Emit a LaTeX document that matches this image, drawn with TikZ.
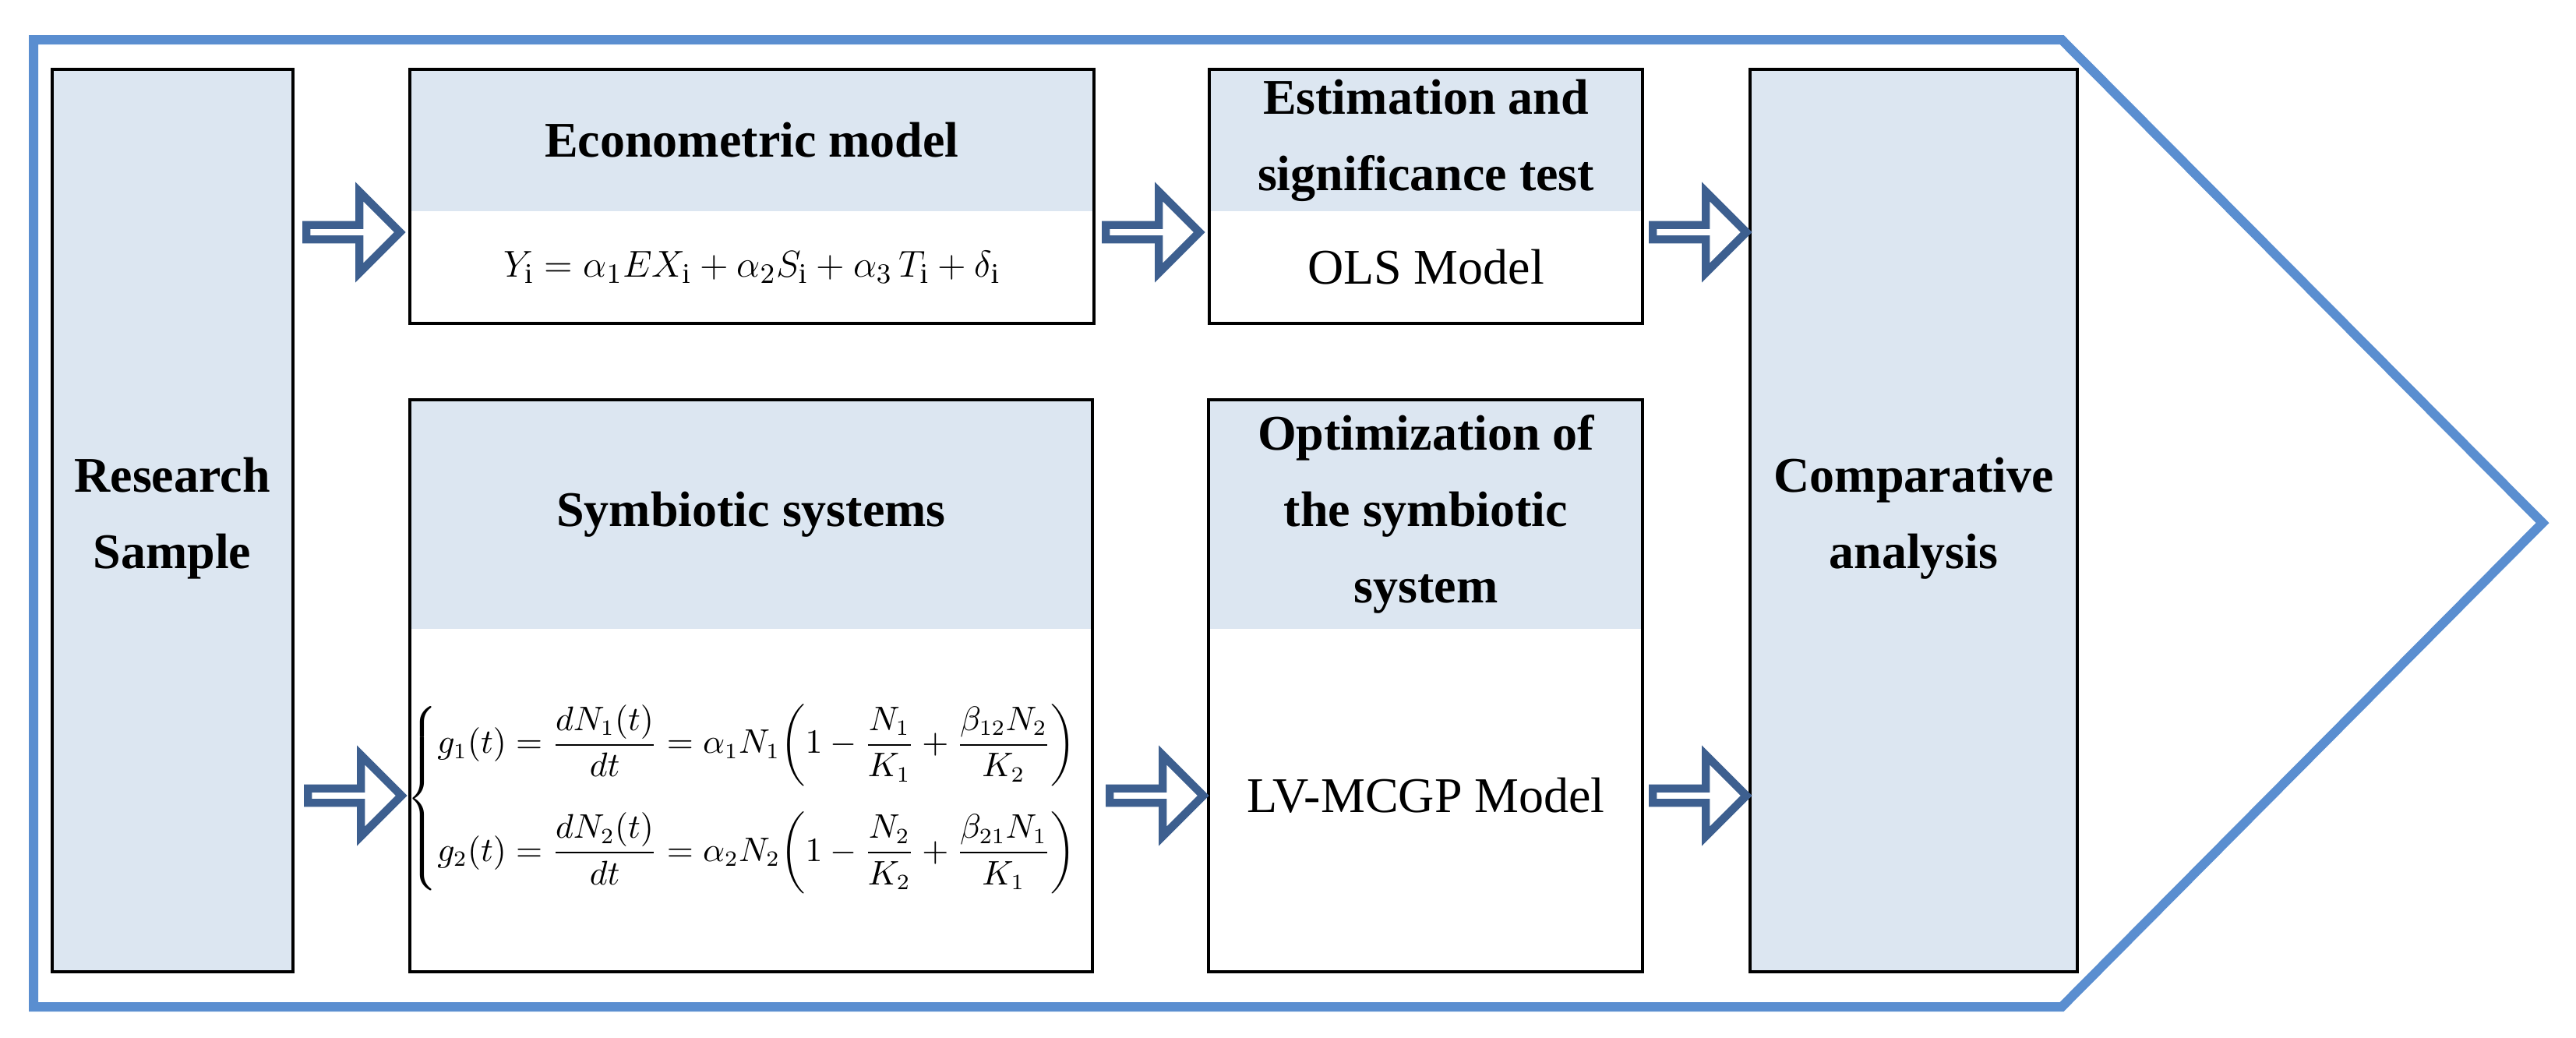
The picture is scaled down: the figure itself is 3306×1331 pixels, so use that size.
\documentclass[tikz,border=0pt]{standalone}
\usepackage{amsmath}
\usepackage{fontspec}
\setmainfont{Liberation Serif}
\usetikzlibrary{shapes.arrows,fit}
\definecolor{hdr}{HTML}{DCE6F1}
\definecolor{outl}{HTML}{5A8ED0}
\definecolor{arr}{HTML}{3D5F8F}
\tikzset{
  box/.style={draw=black,line width=1.2pt,inner sep=0pt},
  ttl/.style={font=\fontsize{16}{24.5}\selectfont\bfseries,align=center},
  txt/.style={font=\fontsize{16}{24.5}\selectfont,align=center},
  blk/.style={single arrow,draw=arr,fill=white,line width=2.6pt,minimum height=30pt,
    minimum width=26pt,single arrow head extend=6pt,single arrow tip angle=90,inner sep=0pt,anchor=west,shape border uses incircle=false}
}
\begin{document}
\begin{tikzpicture}[x=0.25pt,y=-0.25pt]
\useasboundingbox (0,0) rectangle (3306,1331);
% outer pentagon
\draw[outl,line width=3pt,line join=miter] (43,51) -- (2646,51) -- (3263,671) -- (2646,1292) -- (43,1292) -- cycle;
% fills
\fill[hdr] (67,89) rectangle (376,1247);
\fill[hdr] (526,89) rectangle (1404,271);
\fill[hdr] (1552,89) rectangle (2108,271);
\fill[hdr] (2246,89) rectangle (2666,1247);
\fill[hdr] (526,513) rectangle (1402,807);
\fill[hdr] (1551,513) rectangle (2108,807);
% boxes
\node[box,fit={(67,89)(376,1247)}] (rs) {};
\node[box,fit={(526,89)(1404,415)}] (econ) {};
\node[box,fit={(1552,89)(2108,415)}] (est) {};
\node[box,fit={(2246,89)(2666,1247)}] (comp) {};
\node[box,fit={(526,513)(1402,1247)}] (sym) {};
\node[box,fit={(1551,513)(2108,1247)}] (opt) {};
% texts
\node[ttl] (rst) at (221,665) {Research\\Sample};
\node[ttl] (compt) at (2456,665) {Comparative\\analysis};
\node[ttl] (econt) at (965,180) {Econometric model};
\node[font=\fontsize{13}{16}\selectfont] (econe) at (965,343) {$Y_{\mathrm{i}}=\alpha_1 EX_{\mathrm{i}}+\alpha_2 S_{\mathrm{i}}+\alpha_3\,T_{\mathrm{i}}+\delta_{\mathrm{i}}$};
\node[ttl] (estt) at (1830,180) {Estimation and\\significance test};
\node[txt] (ols) at (1830,343) {OLS Model};
\node[ttl] (symt) at (964,660) {Symbiotic systems};
\node[ttl] (optt) at (1830,660) {Optimization of\\the symbiotic\\system};
\node[txt] (lv) at (1830,1021) {LV-MCGP Model};
\node[font=\fontsize{10.5}{13}\selectfont,inner sep=0pt] (syme) at (975,1025) {$\begin{cases}
g_1(t)=\dfrac{dN_1(t)}{dt}=\alpha_1N_1\!\left(1-\dfrac{N_1}{K_1}+\dfrac{\beta_{12}N_2}{K_2}\right)\\[14pt]
g_2(t)=\dfrac{dN_2(t)}{dt}=\alpha_2N_2\!\left(1-\dfrac{N_2}{K_2}+\dfrac{\beta_{21}N_1}{K_1}\right)
\end{cases}$};
% block arrows
\node[blk] (a1) at (388,298) {};
\node[blk] (a2) at (1414,298) {};
\node[blk] (a3) at (2116,298) {};
\node[blk] (a4) at (390,1021) {};
\node[blk] (a5) at (1419,1021) {};
\node[blk] (a6) at (2116,1021) {};
\end{tikzpicture}
\end{document}
